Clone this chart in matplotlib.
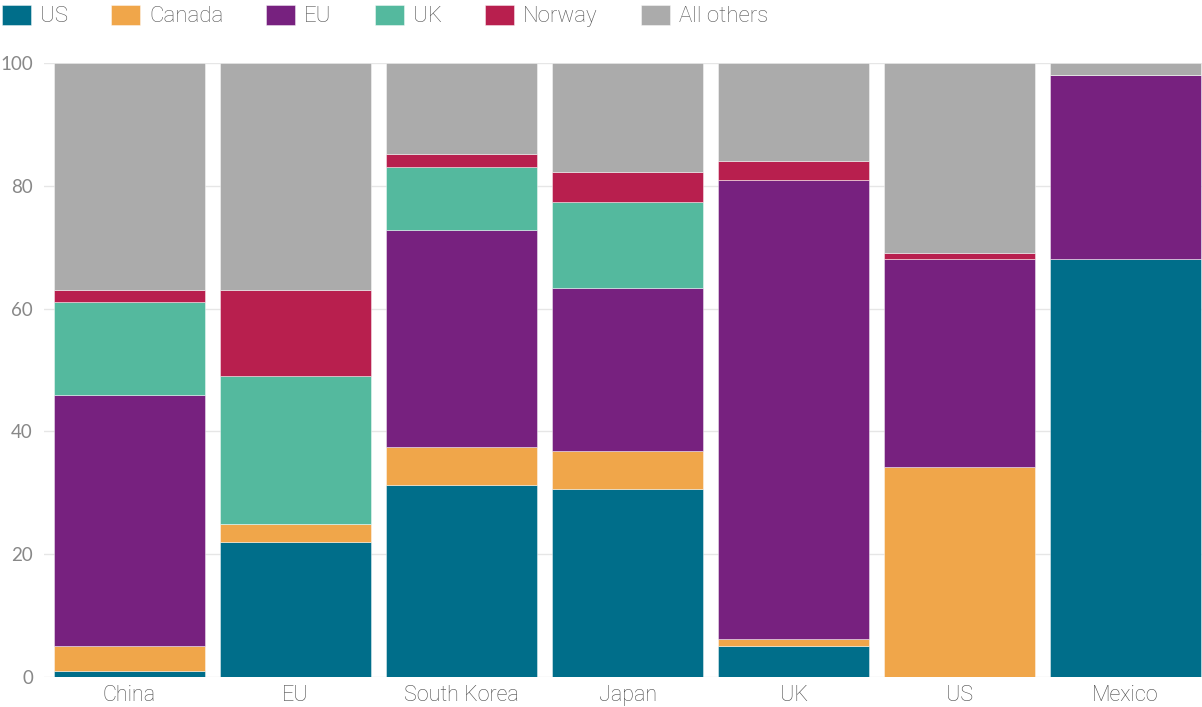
import matplotlib
matplotlib.use("Agg")
import matplotlib.pyplot as plt
import numpy as np
from matplotlib import font_manager

categories = ["China", "EU", "South Korea", "Japan", "UK", "US", "Mexico"]
series_names = ["US", "Canada", "EU", "UK", "Norway", "All others"]
us = [1, 22, 31.3, 30.7, 5, 0, 68]
canada = [4, 3, 6.2, 6.1, 1.2, 34.2, 0]
eu = [41, 0, 35.3, 26.6, 74.8, 33.9, 30]
uk = [15, 24, 10.3, 14.0, 0, 0, 0]
norway = [2, 14, 2.0, 4.8, 3.0, 0.9, 0]
others = [100 - a - b - c - d - e for a, b, c, d, e in zip(us, canada, eu, uk, norway)]
yticks = [0, 20, 40, 60, 80, 100]

colors = ["#006E8A", "#F0A64A", "#77217F", "#54B99E", "#B81F4E", "#ABABAB"]

names = {f.name for f in font_manager.fontManager.ttflist}
narrow = "Liberation Sans Narrow" if "Liberation Sans Narrow" in names else "Roboto"

fig = plt.figure(figsize=(12.02, 7.07), dpi=100)
ax = fig.add_axes([44/1202, 1 - 677/707, (1202-44)/1202, (677-63)/707])

x = np.arange(len(categories))
bottom = np.zeros(len(categories))
handles = []
for name, vals, col in zip(series_names, [us, canada, eu, uk, norway, others], colors):
    vals = np.array(vals, dtype=float)
    b = ax.bar(x, vals, bottom=bottom, width=0.91, color=col, edgecolor=(1, 1, 1, 0.5),
               linewidth=0.6, zorder=3, label=name)
    handles.append(b)
    bottom += vals

ax.set_ylim(0, 100)
ax.set_xlim(-0.515, 6.46)
ax.set_yticks(yticks)
ax.set_xticks(x)
ax.set_xticklabels(categories, fontsize=15.5, color="#4A4A4A",
                   family=[narrow, "DejaVu Sans"], fontweight="light")
for lbl in ax.get_yticklabels():
    lbl.set_fontsize(13.5)
    lbl.set_color("#888888")
    lbl.set_family(["Lato", "DejaVu Sans"])
ax.tick_params(axis="both", length=0)
ax.tick_params(axis="y", pad=8)
ax.tick_params(axis="x", pad=6)
ax.yaxis.grid(True, color="#E6E6E6", linewidth=1, zorder=0)
ax.set_axisbelow(True)
for s in ax.spines.values():
    s.set_visible(False)

leg = fig.legend(handles=handles, labels=series_names, loc="center left",
                 bbox_to_anchor=(2/1202, 1 - 16/707), ncol=6, frameon=False,
                 prop={"family": [narrow, "DejaVu Sans"], "size": 16, "weight": "light"},
                 handlelength=1.3, handleheight=1.0, handletextpad=0.4,
                 columnspacing=1.95, borderaxespad=0, borderpad=0)
for t in leg.get_texts():
    t.set_color("#555555")

fig.savefig("out.png", dpi=100)
